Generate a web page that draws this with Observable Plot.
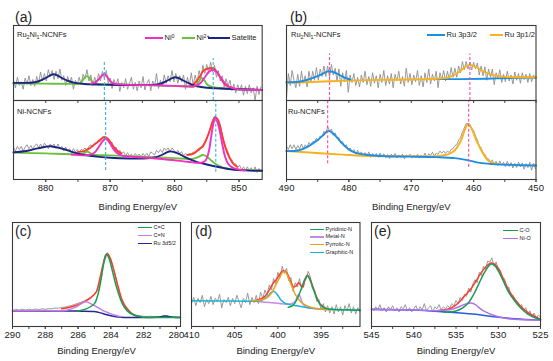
<!DOCTYPE html>
<html><head><meta charset="utf-8">
<script src="https://cdn.jsdelivr.net/npm/d3@7"></script>
<script src="https://cdn.jsdelivr.net/npm/@observablehq/plot@0.6"></script>
<style>
body{margin:0;background:#fff;}
#chart{position:relative;width:553px;height:361px;overflow:hidden;background:#fff;font-family:"Liberation Sans",Arial,sans-serif;color:#222;}
.abs{position:absolute;white-space:nowrap;line-height:1;}
.plabel{font-size:14px;}
.slabel{font-size:7.5px;}
sub{font-size:0.7em;vertical-align:-0.3em;line-height:0;}
sup{font-size:0.7em;vertical-align:0.45em;line-height:0;}
.leg{display:flex;align-items:center;}
.sw{display:inline-block;height:2px;margin-right:1.5px;}
</style></head><body><div id="chart"></div>
<script>
// ---------- data ----------
// (a) Ni 2p, Ru2Ni1-NCNFs (raw, from 885 eV, step 0.3 eV)
const aTopRaw = [27,17,31,20,25,15,30,22,33,20,28,19,32,23,38,26,36,26,41,32,40,28,39,29,42,27,33,20,32,23,31,15,27,21,31,21,35,29,41,26,34,20,31,22,36,26,39,30,40,23,30,16,28,20,29,12,24,17,29,15,23,31,15,24,13,26,17,32,14,23,28,13,26,19,36,16,27,19,34,23,33,25,40,25,36,23,33,25,34,15,31,20,37,20,34,23,40,30,47,36,48,36,51,38,47,31,40,26,33,18,29,19,27,13,22,10,21,13,21,7,19,9,21,10,17,0,19,8,18];
const aTopNi2 = [[885,23],[880,22.5],[876,22.2],[875,22.2],[874.5,24],[874.1,29],[873.6,32.5],[873.1,29],[872.7,24],[872.2,22],[868,21.5],[864,20.5],[860,19.5],[858,18.5],[857,18.5],[856.5,22],[856.1,27],[855.8,30],[855.4,27],[855,22],[854.5,19],[853.5,17],[852,16],[850,15],[846.4,14]];
const aTopSat = [[885,23.5],[882,24],[881,26],[880,30],[879.3,33.5],[878.8,35],[878.2,33.5],[877.5,30],[876.5,26],[875.5,23.5],[874,22],[870,21],[865,20.5],[863,21],[862,23],[861,27],[860.3,30],[859.9,31],[859.4,30],[858.5,26],[857.5,22],[856.5,19],[855,17],[853,16],[850,15],[846.4,14]];
const aTopNi0 = [[873,22.5],[872.4,24],[871.8,28],[871.3,33],[870.9,35],[870.5,32],[870,26],[869.4,22.5],[868.5,21.5],[862,20],[858,19],[857,19],[856,23],[855.3,31],[854.7,38],[854.1,41],[853.5,38],[852.9,31],[852.2,23],[851.5,18],[850.5,15.5],[849.5,14.5],[846.4,14]];
const aTopSum = [[857.5,20],[857,22],[856.5,27],[856,33],[855.5,40],[855,42],[854.5,43],[854,43],[853.5,39],[853,32],[852.5,25],[852,20],[851,17]];
// (a) Ni 2p, Ni-NCNFs
const aBotRaw = [41,36,42,38,42,36,41,44,39,43,38,43,45,40,45,40,46,43,39,45,42,45,39,45,39,42,36,41,36,39,34,39,35,38,33,38,37,40,37,42,44,41,46,46,50,48,54,55,51,52,47,47,39,41,35,37,33,35,30,34,30,32,28,33,30,32,28,33,30,33,29,35,33,31,37,34,38,34,40,37,40,35,40,37,33,37,33,35,30,33,30,33,31,35,34,37,36,41,44,47,52,58,67,75,80,79,76,69,57,47,40,35,28,25,19,20,15,18,12,16,11,16,11,15,10,16,9,14,10];
const aBotNi2 = [[885,34],[880,33],[876,32],[874.5,32],[874,33.5],[873.6,35.5],[873.2,34],[872.5,31.5],[870,30.5],[865,29],[860,27],[858,26],[857,26.5],[856.3,28.5],[855.6,31],[855,29],[854.3,24],[853.5,19],[852.5,15],[851,13],[849,12],[846.4,11]];
const aBotSat = [[885,34.5],[883,36],[881.5,39],[880,41.5],[879.3,42],[878.5,41],[877,38],[875.5,34],[874,31],[872,29],[870,27.5],[867,26.5],[865,26.5],[863,28],[862,31],[861.3,34],[860.8,35.5],[860.2,35],[859.5,33],[858.5,29],[857.5,25],[856.5,22],[855,19],[853,15.5],[851,12.5],[849,11.5],[846.4,11]];
const aBotNi0 = [[876,31.5],[874,30.5],[873,31.5],[872.3,35],[871.7,42],[871.2,48],[870.7,51.5],[870.2,48],[869.6,40],[869,34],[868,30],[866,28.5],[862,26],[858,22.5],[856,21],[855.2,24],[854.7,35],[854.3,55],[854,70],[853.7,78],[853.4,74],[853,62],[852.6,45],[852.2,30],[851.7,20],[851,15],[850,12.5],[849,11.5]];
const aBotSum1 = [[875,35],[874,36],[873.3,39],[872.5,44],[871.8,48.5],[871.2,52.5],[870.7,53.6],[870.2,50],[869.6,43],[869,37],[868.3,33]];
const aBotSum2 = [[858,31],[857,33],[856.2,38.5],[855.6,42],[855,52],[854.5,63],[854,75],[853.7,79],[853.3,76],[852.9,66],[852.5,52],[852,38],[851.5,28],[851,21],[850.3,16]];
const aDashTop = [870.9, 854.0];
const aDashBot = [870.7, 853.6];
const aDashTopEnd = [53, 56];
const aDashBotEnd = [11.4, 9.2];
// (b) Ru 3p
const bTopRaw = [4,36,20,40,27,17,35,19,39,23,33,18,39,24,39,27,44,27,42,32,46,32,46,31,48,34,43,26,42,19,37,25,40,11,34,24,36,20,31,18,34,24,39,21,32,19,37,23,33,17,35,24,40,20,33,22,36,17,35,26,39,22,32,19,43,24,36,21,34,25,40,20,33,18,37,24,42,22,35,26,39,17,37,28,40,26,39,28,44,31,43,31,46,37,52,41,52,42,51,41,51,42,50,34,46,33,45,27,42,31,42,21,37,29,41,24,35,25,39,26,34,22,38,27,36,23,37,28,35,24,36,25,34,29];
const bTop32 = [[490,24.4],[488,25],[486.5,28],[485,32.5],[484,36.5],[483.3,39],[482.5,38],[481.5,34],[480.5,30],[479.8,28]];
const bTopBg = [[466,28.5],[462,28.5],[458,29],[454,30],[450,30.5]];
const bTop12 = [[490,23.6],[485,25],[480,26.5],[475,27.5],[470,28],[466,29],[464,31],[462.5,37],[461.5,44],[460.6,47.5],[459.7,45],[458.5,39],[457,34],[455,31.5],[452,31],[450,31]];
const bBotRaw = [42,38,44,39,44,38,43,39,45,39,44,41,47,44,48,48,52,49,55,54,61,58,67,61,64,56,59,52,53,46,48,41,44,37,40,35,38,32,37,32,35,30,34,30,35,28,33,29,33,28,33.5,28.5,32.5,27.5,31.5,26.5,32,29,33,27,31,28,32,26,31,29,32,27,31,28,32,27,31,28,33.5,27.5,32.5,30.5,34.5,29.5,33.5,32,36,33.5,36,33,36,34,38,39,43,44,50,53,60,65,71,71,70,65,62,55,50,43,40,34,32,27,26,22.5,24.5,19,23,17.5,23.5,18,22,16,23,16.5,21.5,14.5,20.5,15,22,16,21,13,20,15,21.7,11.7,20.7,13.7];
const bBot32 = [[490,35.9],[488,37],[486.5,42],[485,50],[484,57],[483.4,61.5],[482.8,60],[482,54],[481,45],[480,38],[479,34],[477,31],[474,29.5],[470,29],[466,28.3],[463,27],[461,24.5],[459,21],[457,19.5],[454,18.5],[450,17.7]];
const bBot12 = [[490,35.9],[487,34.5],[484,33],[481,31.5],[478,30],[475,29.5],[470,29.3],[466,29.5],[464,32],[463,37],[462,50],[461.4,63],[461,69.5],[460.5,67],[460,58],[459.3,45],[458.5,33],[457.8,25],[457,21],[456,19.5]];
const bDashTop = [483.1, 460.6];
const bDashBot = [483.4, 460.8];
const bDashTopEnd = [62, 62];
const bDashBotEnd = [19.9, 15.6];
// (c) C 1s (raw from 290 eV, step 0.2 eV)
const cRaw = [15.5,16.5,15.8,16.6,15.9,16.7,16,16.8,16.2,17,16.5,17.2,17,17.8,17.6,18.4,18.6,19.5,20.2,21.3,22.3,23.5,24.8,26.3,28,30.5,35,46,62,71,65,54,40,28,20.5,16,13.5,11.8,10.8,10.2,9.8,9.6,9.9,9.5,9.8,9.4,10,10.3,9.6,9.2,9.5,8.9];
const cSum = [[287,17],[286.5,18.5],[286,21],[285.6,24],[285.2,28],[284.9,33],[284.7,44],[284.5,58],[284.3,69],[284.2,70],[284.0,64],[283.8,53],[283.55,38],[283.3,25],[283.0,17],[282.6,11],[282.2,9.5]];
const cRu = [[290,15],[288,15],[286,14.8],[285,14.4],[284.5,12.5],[284,10.3],[283.4,8.8],[282,8.7],[281.2,8.8],[280.7,10],[280.2,9],[279.75,8.7]];
const cCN = [[290,15.2],[288,15.3],[286.7,15.7],[286.1,19],[285.55,23.7],[285,20],[284.5,15.5],[284.2,13.5],[283.8,11],[283.4,9.3]];
const cCC = [[286,15],[285.5,17],[285,22],[284.8,30],[284.6,45],[284.45,60],[284.27,69.5],[284.1,65],[283.9,53],[283.6,35],[283.3,22],[283,15],[282.6,11],[282,9],[281,8.7],[279.75,8.7]];
// (d) N 1s (raw from 410 eV, step 0.25 eV)
const dRaw = [22,28,20,27,23,30,19,26,22,29,21,27,24,31,18,26,23,28,20,27,22,30,24,18,27,23,32,21,28,23,30,22,33,27,35,30,40,35,46,41,52,47,58,51,56,44,47,34,42,38,46,36,43,45,53,48,36,35,24,26,16,22,14,20,13,19,12,21,14,19,11,20,15,22,13,19,12,18,14];
const dSum = [[402.5,25.5],[402,26.5],[401.5,29],[401,35],[400.6,41],[400.2,45],[399.8,50],[399.4,53.5],[399,52],[398.6,45],[398.2,38],[397.9,39],[397.6,42],[397.3,39],[397.1,38],[396.9,44],[396.6,49.4],[396.3,46],[395.9,37],[395.5,28],[395.1,21.5],[394.5,17.5]];
const dMetal = [[403,24.5],[402,23.8],[401,23],[400,22.3],[399,21.5],[398.4,22],[398,24],[397.8,28],[397.6,31],[397.4,28],[397.1,21.5],[396.7,18.5],[396,17.3],[395,16.8]];
const dPyrrolic = [[403,24.8],[402,25.5],[401.3,27.5],[400.8,31.5],[400.3,39],[399.8,47],[399.4,52.5],[399.1,52],[398.8,47],[398.4,39],[398,31],[397.5,25],[397,21.5],[396.2,18.5],[395.2,16.8],[394,16.2]];
const dPyridinic = [[398.8,18.5],[398.3,20],[397.8,26],[397.3,36],[396.9,45],[396.6,48.7],[396.3,45],[395.9,36],[395.5,27],[395.1,21],[394.5,17.5],[393.5,16.3],[392,16],[390.5,15.7]];
const dGraphitic = [[410,24.7],[405,24.5],[403,24.2],[402,25],[401.3,28],[400.8,32.5],[400.5,34],[400.1,31],[399.7,26],[399.2,22.5],[398.5,20.8],[397.5,19.5],[396,17.5],[394,16.5],[392,16],[390.5,15.7]];
// (e) O 1s (raw from 545 eV, step 0.25 eV)
const eRaw = [18,15,19,16,21,15,18,14,19,16,20,15,18,14,19,17,21,15,18,14,17,20,15,19,16,22,15,18,20,14,19,17,21,16,19,17,20,18,22,20,25,22,28,25,31,29,37,33,41,45,42,52,49,58,55,63,62,66,58,62,55,54,45,46,37,38,29,30,24,24,19,21,15,18,12,15,9,13,8,11,9];
const eBg = [[545,16.7],[540,15.8],[536.5,14.1],[533,12],[530.5,9.3],[528,7.5],[525,6.1]];
const eNiO = [[545,16.2],[540,15.8],[537,15.3],[535.5,16.5],[534.5,19.5],[533.7,22],[533.2,22.5],[532.7,21],[532.1,17],[531.5,14],[530.5,10.5],[529.5,8.5],[528.5,7.2],[527,6.5],[525,6.1]];
const eCO = [[536.5,14],[535,15],[534.2,18],[533.5,23],[532.9,31],[532.3,41],[531.7,51],[531.2,57.5],[530.85,60],[530.4,58.5],[529.9,52],[529.3,42],[528.7,32],[528,24],[527.4,18.3],[526.5,12],[525.5,8],[525,6.8]];
const eSum = [[537,15.5],[536,16.5],[535.2,19.5],[534.5,24.5],[533.8,31],[533.2,36.5],[532.6,44],[532,52],[531.4,58],[530.85,61],[530.3,59],[529.8,53],[529.3,44],[528.7,34],[528,26],[527.4,20],[526.5,13.5],[525.5,9],[525,7]];
// ticks
const aMajor = [880,870,860,850], aMinor = [880,875,870,865,860,855,850];
const bMajor = [490,480,470,460,450], bMinor = [490,485,480,475,470,465,460,455,450];
const cMajor = [290,288,286,284,282,280], cMinor = [289,288,287,286,285,284,283,282,281,280];
const dMajor = [410,405,400,395], dMinor = [407.5,402.5,397.5,392.5];
const eMajor = [545,540,535,530,525], eMinor = [542.5,537.5,532.5,527.5];
const xTitle = "Binding Energy/eV";

// ---------- drawing ----------
const chart = document.getElementById("chart");
const FONT = '"Liberation Sans", Arial, sans-serif';
const C = {gray:"#8e8e8e", red:"#ff3a2a", ni0:"#f22fc2", ni2:"#6cc03c", sat:"#1c2580", dashA:"#35b0e6",
  ru32:"#1e8fe0", ru12:"#f8b21e", dashB:"#ff4aa0", cc:"#14a050", cn:"#c77ae8", ru3d:"#1f2a8c",
  pyridinic:"#17a05a", metal:"#c58ae8", pyrrolic:"#e8a11a", graphitic:"#1ab3d6", co:"#1a9a5a", nio:"#b870e8", bg:"#2a5bd7"};

const grid = (start, step, vals) => vals.map((v, i) => ({e: +(start - i * step).toFixed(3), v}));
const raw = (start, step, vals) => Plot.line(grid(start, step, vals), {x: "e", y: "v", stroke: C.gray, strokeWidth: 0.9});
const fit = (arr, color, w = 1.9) => Plot.line(arr, {x: d => d[0], y: d => d[1], stroke: color, strokeWidth: w, curve: "catmull-rom"});
const frame = () => Plot.frame({stroke: "#3a3a3a", strokeWidth: 1.1});
const minorAxis = (t) => Plot.axisX({ticks: t, tickSize: 3, tickFormat: () => "", label: null, stroke: "#444"});
const majorAxis = (t) => Plot.axisX({ticks: t, tickSize: 3, tickPadding: 2, fontSize: 9.5, label: null, tickFormat: d => String(d), stroke: "#444", fill: "#222"});
const title = (dy) => Plot.text([xTitle], {frameAnchor: "bottom", dy, fontSize: 9.5, fill: "#222", lineAnchor: "middle"});
const dashes = (xs, y1s, y2s, color) => Plot.ruleX(xs.map((x, i) => ({x, y1: y1s[i], y2: y2s[i]})), {x: "x", y1: "y1", y2: "y2", stroke: color, strokeWidth: 1.1, strokeDasharray: "3,2"});

function addPlot({left, top, w, h, xDomain, marks, mb = 4}) {
  const ml = 6, mr = 6, mt = 4;
  const p = Plot.plot({
    width: w + ml + mr, height: h + mt + mb,
    marginLeft: ml, marginRight: mr, marginTop: mt, marginBottom: mb,
    x: {domain: xDomain}, y: {domain: [0, 100], axis: null},
    style: {background: "transparent", fontFamily: FONT, overflow: "visible"},
    marks
  });
  p.style.position = "absolute";
  p.style.left = (left - ml) + "px";
  p.style.top = (top - mt) + "px";
  p.style.maxWidth = "none";
  chart.appendChild(p);
}

// (a)
addPlot({left: 13.3, top: 25, w: 248.7, h: 75, xDomain: [885, 846.4], marks: [
  raw(885, 0.3, aTopRaw), fit(aTopSum, C.red), fit(aTopNi2, C.ni2), fit(aTopSat, C.sat), fit(aTopNi0, C.ni0),
  dashes(aDashTop, [0, 0], aDashTopEnd, C.dashA), minorAxis(aMinor), frame()]});
addPlot({left: 13.3, top: 100, w: 248.7, h: 79, xDomain: [885, 846.4], mb: 36, marks: [
  raw(885, 0.3, aBotRaw), fit(aBotSum1, C.red), fit(aBotSum2, C.red), fit(aBotNi2, C.ni2), fit(aBotSat, C.sat), fit(aBotNi0, C.ni0),
  dashes(aDashBot, aDashBotEnd, [100, 100], C.dashA), minorAxis(aMinor), majorAxis(aMajor), title(27), frame()]});
// (b)
addPlot({left: 286, top: 25, w: 249.5, h: 75, xDomain: [490, 450], marks: [
  raw(490, 0.3, bTopRaw), fit(bTopBg, C.ru32), fit(bTop12, C.ru12), fit(bTop32, C.ru32),
  dashes(bDashTop, [0, 0], bDashTopEnd, C.dashB), minorAxis(bMinor), frame()]});
addPlot({left: 286, top: 100, w: 249.5, h: 79, xDomain: [490, 450], mb: 36, marks: [
  raw(490, 0.3, bBotRaw), fit(bBot12, C.ru12), fit(bBot32, C.ru32),
  dashes(bDashBot, bDashBotEnd, [100, 100], C.dashB), minorAxis(bMinor), majorAxis(bMajor), title(27), frame()]});
// (c)
addPlot({left: 12, top: 222, w: 168, h: 104, xDomain: [290, 279.75], mb: 34, marks: [
  raw(290, 0.2, cRaw), fit(cSum, C.red, 1.5), fit(cRu, C.ru3d, 1.5), fit(cCN, C.cn, 1.5), fit(cCC, C.cc, 1.5),
  minorAxis(cMinor), majorAxis(cMajor), title(24), frame()]});
// (d)
addPlot({left: 191, top: 222, w: 168.5, h: 104, xDomain: [410, 390.5], mb: 34, marks: [
  raw(410, 0.25, dRaw), fit(dSum, C.red, 1.5), fit(dMetal, C.metal, 1.5), fit(dGraphitic, C.graphitic, 1.5),
  fit(dPyrrolic, C.pyrrolic, 1.5), fit(dPyridinic, C.pyridinic, 1.5),
  minorAxis(dMinor), majorAxis(dMajor), title(24), frame()]});
// (e)
addPlot({left: 371, top: 222, w: 169, h: 104, xDomain: [545, 525], mb: 34, marks: [
  raw(545, 0.25, eRaw), fit(eBg, C.bg, 1.5), fit(eSum, C.red, 1.5), fit(eNiO, C.nio, 1.5), fit(eCO, C.co, 1.5),
  minorAxis(eMinor), majorAxis(eMajor), title(24), frame()]});

// ---------- text overlays ----------
function label(x, yc, html, cls, fs) {
  const d = document.createElement("div");
  d.className = "abs " + cls;
  d.innerHTML = html;
  d.style.left = x + "px";
  d.style.top = (yc - fs / 2) + "px";
  d.style.height = fs + "px";
  d.style.fontSize = fs + "px";
  chart.appendChild(d);
}
function legItem(x, yc, color, lw, html, fs, th = 2) {
  const d = document.createElement("div");
  d.className = "abs leg";
  d.style.left = x + "px";
  d.style.top = (yc - fs / 2) + "px";
  d.style.height = fs + "px";
  d.style.fontSize = fs + "px";
  d.innerHTML = `<span class="sw" style="width:${lw}px;height:${th}px;background:${color}"></span><span>${html}</span>`;
  chart.appendChild(d);
}
label(15, 17, "(a)", "plabel", 14);
label(290, 17, "(b)", "plabel", 14);
label(15, 231, "(c)", "plabel", 14);
label(195, 231, "(d)", "plabel", 14);
label(374, 231, "(e)", "plabel", 14);
label(17, 34.5, "Ru<sub>2</sub>Ni<sub>1</sub>-NCNFs", "slabel", 7.5);
label(17, 111.5, "Ni-NCNFs", "slabel", 7.5);
label(291, 34.5, "Ru<sub>2</sub>Ni<sub>1</sub>-NCNFs", "slabel", 7.5);
label(288, 112, "Ru-NCNFs", "slabel", 7.5);
legItem(145, 38, C.ni0, 18, "Ni<sup>0</sup>", 7.5);
legItem(182, 38, C.ni2, 13, "Ni<sup>2+</sup>", 7.5);
legItem(208, 38, C.sat, 22, "Satelite", 7.5);
legItem(427, 34.5, C.ru32, 18, "Ru 3p3/2", 7.5);
legItem(490, 34.5, C.ru12, 13, "Ru 3p1/2", 7.5);
legItem(138, 227.7, C.cc, 14, "C=C", 5.5, 1.5);
legItem(138, 235.5, C.cn, 14, "C=N", 5.5, 1.5);
legItem(138, 243.3, C.ru3d, 14, "Ru 3d5/2", 5.5, 1.5);
legItem(310, 229.5, C.pyridinic, 14, "Pyridinic-N", 5.5, 1.5);
legItem(310, 237, C.metal, 14, "Metal-N", 5.5, 1.5);
legItem(310, 244.7, C.pyrrolic, 14, "Pyrrolic-N", 5.5, 1.5);
legItem(310, 252.5, C.graphitic, 14, "Graphitic-N", 5.5, 1.5);
legItem(503, 230.7, C.co, 15, "C-O", 5.5, 1.5);
legItem(503, 238.5, C.nio, 15, "Ni-O", 5.5, 1.5);
</script></body></html>
